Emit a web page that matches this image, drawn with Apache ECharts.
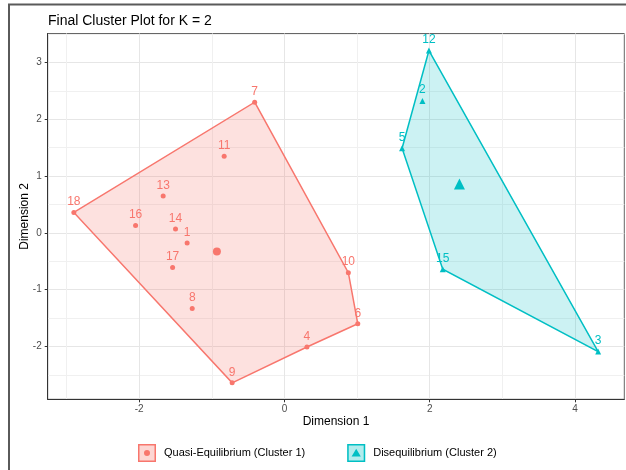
<!DOCTYPE html>
<html>
<head>
<meta charset="utf-8">
<script src="https://cdn.jsdelivr.net/npm/echarts@6/dist/echarts.min.js"></script>
<style>
  html, body { margin: 0; padding: 0; background: #fff; }
  #chart { width: 626px; height: 470px; }
</style>
</head>
<body>
<div id="chart"></div>
<script>
// cluster 1 - Quasi-Equilibrium
var c1Names = ['1', '4', '6', '7', '8', '9', '10', '11', '13', '14', '16', '17', '18'];
var c1X = [-1.34, 0.31, 1.01, -0.41, -1.27, -0.72, 0.88, -0.83, -1.67, -1.50, -2.05, -1.54, -2.90];
var c1Y = [-0.18, -2.01, -1.60, 2.30, -1.33, -2.64, -0.70, 1.35, 0.65, 0.07, 0.13, -0.61, 0.36];
var c1Hull = ['7', '10', '6', '4', '9', '18'];
var c1Center = [-0.93, -0.33];

// cluster 2 - Disequilibrium
var c2Names = ['2', '3', '5', '12', '15'];
var c2X = [1.90, 4.32, 1.62, 1.99, 2.18];
var c2Y = [2.32, -2.09, 1.49, 3.21, -0.64];
var c2Hull = ['12', '3', '15', '5'];
var c2Center = [2.41, 0.86];

var xTicks = [-2, 0, 2, 4];
var xMinor = [-3, -1, 1, 3];
var yTicks = [-2, -1, 0, 1, 2, 3];
var yMinor = [-2.5, -1.5, -0.5, 0.5, 1.5, 2.5, 3.5];

var name1 = 'Quasi-Equilibrium (Cluster 1)';
var name2 = 'Disequilibrium (Cluster 2)';
var red = '#F8766D';
var cyan = '#00BFC4';
var font = 'Liberation Sans, Arial, sans-serif';

function points(names, xs, ys) {
  return names.map(function (n, i) { return [xs[i], ys[i], n]; });
}
function hullPoints(names, xs, ys, hull) {
  return hull.map(function (n) {
    var i = names.indexOf(n);
    return [xs[i], ys[i]];
  });
}

function hullSeries(name, data, fill, stroke) {
  return {
    name: name,
    type: 'custom',
    z: 1,
    silent: true,
    data: data,
    renderItem: function (params, api) {
      if (params.dataIndex !== 0) return;
      var pts = data.map(function (p) { return api.coord(p); });
      return {
        type: 'polygon',
        shape: { points: pts },
        style: { fill: fill, stroke: stroke, lineWidth: 1.5 }
      };
    }
  };
}

function pointSeries(name, data, symbol, size, color) {
  return {
    name: name,
    type: 'scatter',
    z: 2,
    symbol: symbol,
    symbolSize: size,
    itemStyle: { color: color, opacity: 1 },
    label: {
      show: true,
      position: 'top',
      distance: 2,
      color: color,
      fontSize: 12,
      fontFamily: font,
      formatter: function (p) { return p.value[2]; }
    },
    data: data
  };
}

function centerSeries(name, c, symbol, size, color) {
  return {
    name: name,
    type: 'scatter',
    z: 3,
    symbol: symbol,
    symbolSize: size,
    itemStyle: { color: color, opacity: 1 },
    data: [c]
  };
}

var ring = 'M0,0H18V18H0Z M1.5,1.5V16.5H16.5V1.5Z ';
var iconCircle = 'path://' + ring + 'M12,9A3,3 0 1,1 6,9A3,3 0 1,1 12,9Z';
var iconTri = 'path://' + ring + 'M9,4.8L13.6,12.6L4.4,12.6Z';

var legendBase = {
  left: 138,
  top: 444,
  padding: 0,
  itemWidth: 18,
  itemHeight: 18,
  itemGap: 42,
  selectedMode: false
};

var myChart = echarts.init(document.getElementById('chart'));
var option = {
  backgroundColor: '#fff',
  animation: false,
  textStyle: { fontFamily: font },
  title: {
    text: 'Final Cluster Plot for K = 2',
    left: 48,
    top: 14,
    padding: 0,
    textStyle: { fontSize: 14, fontWeight: 'normal', color: '#000', fontFamily: font }
  },
  graphic: [{
    type: 'rect',
    silent: true,
    shape: { x: 9, y: 4.5, width: 700, height: 600 },
    style: { fill: 'none', stroke: '#5a5a5a', lineWidth: 2 }
  }],
  legend: [
    Object.assign({}, legendBase, {
      textStyle: { fontSize: 11, color: '#000', fontFamily: font, padding: [0, 0, 0, 3] },
      data: [
        { name: name1, icon: 'rect', itemStyle: { color: 'rgba(248,118,109,0.3)', borderWidth: 0 } },
        { name: name2, icon: 'rect', itemStyle: { color: 'rgba(0,191,196,0.3)', borderWidth: 0 } }
      ]
    }),
    Object.assign({}, legendBase, {
      z: 10,
      textStyle: { fontSize: 11, color: 'rgba(0,0,0,0)', fontFamily: font, padding: [0, 0, 0, 3] },
      data: [
        { name: name1, icon: iconCircle, itemStyle: { color: red, borderWidth: 0 } },
        { name: name2, icon: iconTri, itemStyle: { color: cyan, borderWidth: 0 } }
      ]
    })
  ],
  grid: {
    left: 47.7,
    right: 1.7,
    top: 33.5,
    bottom: 70.7,
    show: true,
    borderColor: '#666',
    borderWidth: 1
  },
  xAxis: [{
    type: 'value',
    min: -3.26,
    max: 4.68,
    name: 'Dimension 1',
    nameLocation: 'middle',
    nameGap: 16,
    nameMoveOverlap: false,
    nameTextStyle: { fontSize: 12, color: '#000', fontFamily: font },
    axisLine: { show: true, onZero: false, lineStyle: { color: '#333', width: 1 } },
    axisTick: { show: true, length: 3, customValues: xTicks, lineStyle: { color: '#333' } },
    axisLabel: { customValues: xTicks, margin: 5, fontSize: 10, color: '#4d4d4d', fontFamily: font },
    splitLine: { show: true, lineStyle: { color: '#e6e6e6', width: 1 } }
  }, {
    type: 'value',
    position: 'top',
    min: -3.26,
    max: 4.68,
    axisLine: { show: false, onZero: false },
    axisTick: { show: false, customValues: xMinor },
    axisLabel: { show: false },
    splitLine: { show: true, lineStyle: { color: '#f0f0f0', width: 1 } }
  }],
  yAxis: [{
    type: 'value',
    min: -2.93,
    max: 3.51,
    name: 'Dimension 2',
    nameLocation: 'middle',
    nameGap: 17,
    nameMoveOverlap: false,
    nameTextStyle: { fontSize: 12, color: '#000', fontFamily: font },
    axisLine: { show: true, onZero: false, lineStyle: { color: '#333', width: 1 } },
    axisTick: { show: true, length: 3, customValues: yTicks, lineStyle: { color: '#333' } },
    axisLabel: { customValues: yTicks, margin: 6, fontSize: 10, color: '#4d4d4d', fontFamily: font },
    splitLine: { show: true, lineStyle: { color: '#e6e6e6', width: 1 } }
  }, {
    type: 'value',
    position: 'right',
    min: -2.93,
    max: 3.51,
    axisLine: { show: false, onZero: false },
    axisTick: { show: false, customValues: yMinor },
    axisLabel: { show: false },
    splitLine: { show: true, lineStyle: { color: '#f0f0f0', width: 1 } }
  }],
  series: [
    hullSeries(name1, hullPoints(c1Names, c1X, c1Y, c1Hull), 'rgba(248,118,109,0.22)', red),
    hullSeries(name2, hullPoints(c2Names, c2X, c2Y, c2Hull), 'rgba(0,191,196,0.2)', cyan),
    pointSeries(name1, points(c1Names, c1X, c1Y), 'circle', 5, red),
    pointSeries(name2, points(c2Names, c2X, c2Y), 'triangle', 6, cyan),
    centerSeries(name1, c1Center, 'circle', 8, red),
    centerSeries(name2, c2Center, 'triangle', 11, cyan)
  ]
};

option && myChart.setOption(option);
</script>
</body>
</html>
